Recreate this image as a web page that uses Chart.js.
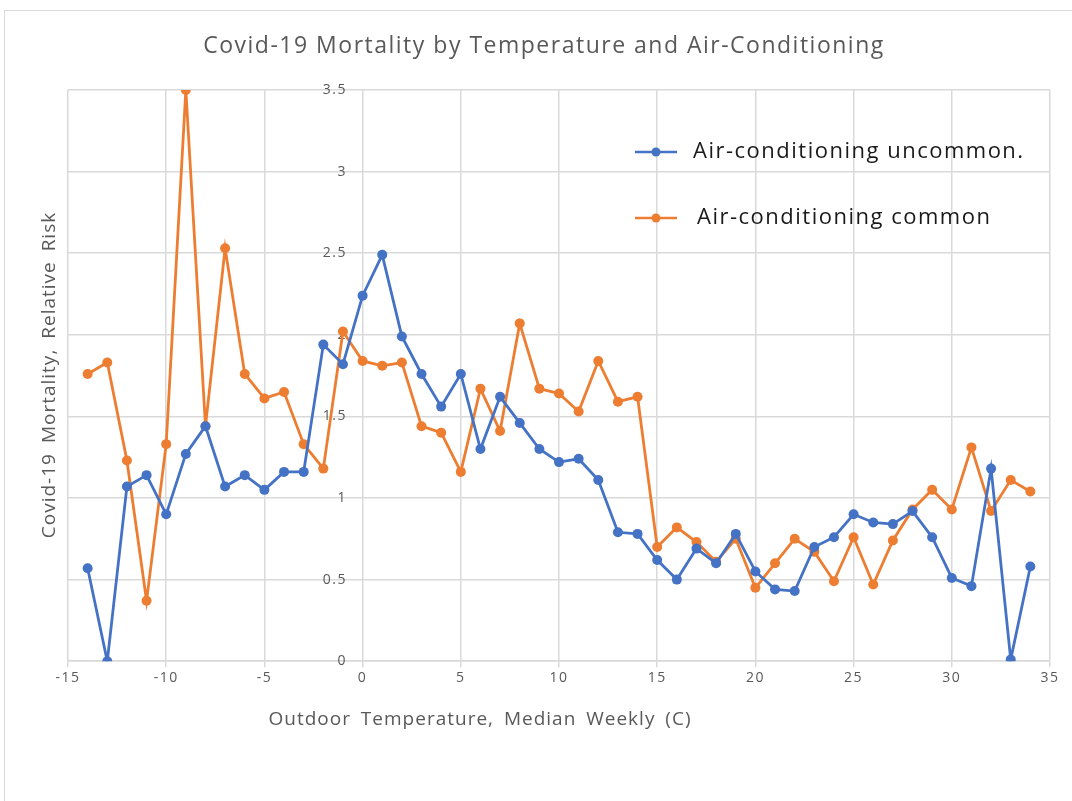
<!DOCTYPE html>
<html>
<head>
<meta charset="utf-8">
<script src="https://cdn.jsdelivr.net/npm/chart.js@4/dist/chart.umd.min.js"></script>
<style>
    html, body { margin: 0; padding: 0; background: #fff; }
    #frame { position: absolute; left: 4px; top: 10px; width: 1100px; height: 800px; border: 1px solid #d9d9d9; }
    #wrap { position: absolute; left: 0; top: 0; width: 1072px; height: 801px; }
</style>
</head>
<body>
<div id="frame"></div>
<div id="wrap"><canvas id="mortalityChart" width="1072" height="801"></canvas></div>
<script>
// Median weekly outdoor temperature (C)
const temperatures = [-14, -13, -12, -11, -10, -9, -8, -7, -6, -5, -4, -3, -2, -1, 0, 1, 2, 3, 4, 5, 6, 7, 8, 9, 10,
    11, 12, 13, 14, 15, 16, 17, 18, 19, 20, 21, 22, 23, 24, 25, 26, 27, 28, 29, 30, 31, 32, 33, 34];

// Relative risk, air-conditioning uncommon
const riskUncommon = [0.57, 0, 1.07, 1.14, 0.9, 1.27, 1.44, 1.07, 1.14, 1.05, 1.16, 1.16, 1.94, 1.82, 2.24, 2.49,
    1.99, 1.76, 1.56, 1.76, 1.3, 1.62, 1.46, 1.3, 1.22, 1.24, 1.11, 0.79, 0.78, 0.62, 0.5, 0.69, 0.6, 0.78, 0.55,
    0.44, 0.43, 0.7, 0.76, 0.9, 0.85, 0.84, 0.92, 0.76, 0.51, 0.46, 1.18, 0.01, 0.58];

// Relative risk, air-conditioning common
const riskCommon = [1.76, 1.83, 1.23, 0.37, 1.33, 3.5, 1.44, 2.53, 1.76, 1.61, 1.65, 1.33, 1.18, 2.02, 1.84, 1.81,
    1.83, 1.44, 1.4, 1.16, 1.67, 1.41, 2.07, 1.67, 1.64, 1.53, 1.84, 1.59, 1.62, 0.7, 0.82, 0.73, 0.61, 0.75, 0.45,
    0.6, 0.75, 0.67, 0.49, 0.76, 0.47, 0.74, 0.93, 1.05, 0.93, 1.31, 0.92, 1.11, 1.04];

const seriesLabels = ['Air-conditioning uncommon.', 'Air-conditioning common'];
const chartTitle = 'Covid-19 Mortality by Temperature and Air-Conditioning';
const xTitle = 'Outdoor Temperature, Median Weekly (C)';
const yTitle = 'Covid-19 Mortality, Relative Risk';

const blue = '#4472C4';
const orange = '#ED7D31';
const gridColor = '#d9d9d9';
const textGray = '#595959';

function toPoints(values) {
    return temperatures.map((t, i) => ({ x: t, y: values[i] }));
}

// title, axis titles and in-plot legend, placed like the Excel original
const overlayPlugin = {
    id: 'overlay',
    beforeDraw(chart) {
        // Excel spaces its tick labels a little wider
        chart.ctx.letterSpacing = '1.5px';
    },
    afterDraw(chart) {
        const ctx = chart.ctx;
        ctx.save();
        ctx.fillStyle = textGray;
        ctx.textAlign = 'center';
        ctx.textBaseline = 'middle';

        ctx.font = '23px "Open Sans"';
        ctx.letterSpacing = '1.5px';
        ctx.fillText(chartTitle, 544, 46);

        ctx.font = '19px "Open Sans"';
        ctx.letterSpacing = '1px';
        ctx.wordSpacing = '4px';
        ctx.fillText(xTitle, 480, 720);

        ctx.translate(50, 375);
        ctx.rotate(-Math.PI / 2);
        ctx.fillText(yTitle, 0, 0);
        ctx.restore();

        // legend
        ctx.save();
        ctx.font = '22px "Open Sans"';
        ctx.letterSpacing = '1.5px';
        ctx.textAlign = 'left';
        ctx.textBaseline = 'middle';
        const rows = [{ y: 152, textX: 693 }, { y: 218, textX: 697 }];
        chart.data.datasets.forEach((ds, i) => {
            const r = rows[i];
            ctx.strokeStyle = ds.borderColor;
            ctx.lineWidth = 2.5;
            ctx.beginPath();
            ctx.moveTo(635, r.y);
            ctx.lineTo(677, r.y);
            ctx.stroke();
            ctx.fillStyle = ds.backgroundColor;
            ctx.beginPath();
            ctx.arc(656, r.y, 4.5, 0, Math.PI * 2);
            ctx.fill();
            ctx.fillStyle = '#1a1a1a';
            ctx.fillText(ds.label, r.textX, r.y);
        });
        ctx.restore();
    }
};

const ctx = document.getElementById('mortalityChart').getContext('2d');
new Chart(ctx, {
    type: 'line',
    data: {
        datasets: [{
            label: seriesLabels[0],
            data: toPoints(riskUncommon),
            borderColor: blue,
            backgroundColor: blue,
            borderWidth: 2.8,
            pointRadius: 5,
            pointBorderWidth: 0,
            tension: 0
        }, {
            label: seriesLabels[1],
            data: toPoints(riskCommon),
            borderColor: orange,
            backgroundColor: orange,
            borderWidth: 2.8,
            pointRadius: 5,
            pointBorderWidth: 0,
            tension: 0
        }]
    },
    options: {
        responsive: false,
        animation: false,
        layout: {
            padding: { left: 68, right: 22, top: 90, bottom: 113 }
        },
        scales: {
            x: {
                type: 'linear',
                min: -15,
                max: 35,
                ticks: {
                    stepSize: 5,
                    color: textGray,
                    font: { size: 14, family: '"Open Sans"' },
                    padding: 2
                },
                grid: { color: gridColor, tickLength: 6, lineWidth: 1.5 },
                border: { color: gridColor, width: 1.5 }
            },
            y: {
                type: 'linear',
                // labels sit just left of the zero line; the x grid draws the line itself
                position: { x: -0.8 },
                min: 0,
                max: 3.5,
                ticks: {
                    stepSize: 0.5,
                    color: textGray,
                    font: { size: 14, family: '"Open Sans"' },
                    callback: value => String(value)
                },
                grid: { color: gridColor, drawTicks: false, lineWidth: 1.5 },
                border: { display: false }
            }
        },
        plugins: {
            legend: { display: false },
            tooltip: { enabled: false },
            title: { display: false }
        }
    },
    plugins: [overlayPlugin]
});
</script>
</body>
</html>
